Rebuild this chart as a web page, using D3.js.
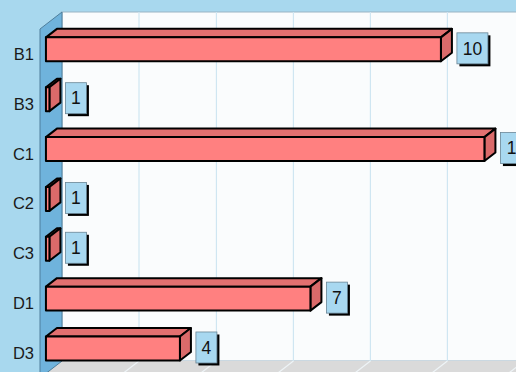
<!DOCTYPE html>
<html>
<head>
<meta charset="utf-8">
<script src="https://cdn.jsdelivr.net/npm/d3@7"></script>
<style>
  html, body { margin: 0; padding: 0; background: #a8d8ee; overflow: hidden; }
  svg { display: block; font-family: "Liberation Sans", Arial, sans-serif; }
</style>
</head>
<body>
<svg id="chart"></svg>
<script>
const categories = ['B1', 'B3', 'C1', 'C2', 'C3', 'D1', 'D3'];
const values = [10, 1, 11, 1, 1, 7, 4];
const gridTicks = [2.69, 4.47, 6.24, 8.01, 9.78, 11.55];

const width = 516;
const height = 372;

// oblique depth offset of the whole chart box
const depthX = 22;
const depthY = -17;
const barD0 = 0.27;
const barD1 = 0.77;

const plotLeft = 40;
const plotTop = 29;
const plotBottom = 378;

const svg = d3.select('#chart')
    .attr('width', width)
    .attr('height', height);

const x = d3.scaleLinear()
    .domain([0.92, 12.5])
    .range([plotLeft, plotLeft + 11.58 * 43.5]);

const y = d3.scaleBand()
    .domain(categories)
    .range([plotTop, plotBottom])
    .paddingInner(0.52)
    .paddingOuter(0.26);

const xMin = x.domain()[0];
const xMax = x.domain()[1];

// project a value/y pair at a given depth (0 = front, 1 = back)
const proj = (v, yy, d) => [x(v) + depthX * d, yy + depthY * d];
const pts = arr => arr.map(p => p.join(',')).join(' ');

svg.append('rect')
    .attr('width', width)
    .attr('height', height)
    .attr('fill', '#a8d8ee');

// back wall
const bwTop = proj(xMin, plotTop, 1);
const bwBottom = proj(xMin, plotBottom, 1);
svg.append('rect')
    .attr('x', bwTop[0])
    .attr('y', bwTop[1])
    .attr('width', width - bwTop[0] + 10)
    .attr('height', bwBottom[1] - bwTop[1])
    .attr('fill', '#fafcfd')
    .attr('stroke', '#9ab4c4')
    .attr('stroke-width', 1);

// floor
svg.append('polygon')
    .attr('points', pts([
        proj(xMin, plotBottom, 1),
        proj(xMax, plotBottom, 1),
        proj(xMax, plotBottom, 0),
        proj(xMin, plotBottom, 0)
    ]))
    .attr('fill', '#dadada');

// grid lines on back wall and floor
gridTicks.forEach(t => {
    const a = proj(t, plotTop, 1);
    const b = proj(t, plotBottom, 1);
    const c = proj(t, plotBottom, 0);
    svg.append('line')
        .attr('x1', a[0]).attr('y1', a[1])
        .attr('x2', b[0]).attr('y2', b[1])
        .attr('stroke', '#cfe6f2')
        .attr('stroke-width', 1.2);
    svg.append('line')
        .attr('x1', b[0]).attr('y1', b[1])
        .attr('x2', c[0]).attr('y2', c[1])
        .attr('stroke', '#eef4f7')
        .attr('stroke-width', 1.2);
});

// left wall
svg.append('polygon')
    .attr('points', pts([
        proj(xMin, plotTop, 0),
        proj(xMin, plotTop, 1),
        proj(xMin, plotBottom, 1),
        proj(xMin, plotBottom, 0)
    ]))
    .attr('fill', '#6fb3dc')
    .attr('stroke', '#4f7f9c')
    .attr('stroke-width', 1);

// category labels
svg.selectAll('.cat')
    .data(categories)
    .enter()
    .append('text')
    .attr('class', 'cat')
    .attr('x', plotLeft - 6)
    .attr('y', d => y(d) + y.bandwidth() / 2)
    .attr('dy', '0.36em')
    .attr('text-anchor', 'end')
    .attr('font-size', 16.5)
    .attr('fill', '#1a1a1a')
    .text(d => d);

// bars
const bars = categories.map((c, i) => ({ cat: c, value: values[i] }));

const g = svg.selectAll('.bar')
    .data(bars)
    .enter()
    .append('g')
    .attr('class', 'bar')
    .attr('stroke', '#000')
    .attr('stroke-width', 2)
    .attr('stroke-linejoin', 'round');

g.append('polygon')
    .attr('points', d => {
        const y0 = y(d.cat);
        return pts([proj(xMin, y0, barD0), proj(d.value, y0, barD0), proj(d.value, y0, barD1), proj(xMin, y0, barD1)]);
    })
    .attr('fill', '#e27070');

g.append('polygon')
    .attr('points', d => {
        const y0 = y(d.cat);
        const y1 = y0 + y.bandwidth();
        return pts([proj(d.value, y0, barD0), proj(d.value, y0, barD1), proj(d.value, y1, barD1), proj(d.value, y1, barD0)]);
    })
    .attr('fill', '#da6a6a');

g.append('polygon')
    .attr('points', d => {
        const y0 = y(d.cat);
        const y1 = y0 + y.bandwidth();
        return pts([proj(xMin, y0, barD0), proj(d.value, y0, barD0), proj(d.value, y1, barD0), proj(xMin, y1, barD0)]);
    })
    .attr('fill', '#ff8080');

// value labels
const lab = svg.selectAll('.val')
    .data(bars)
    .enter()
    .append('g')
    .attr('class', 'val')
    .attr('transform', d => {
        const p = proj(d.value, y(d.cat) + y.bandwidth() / 2, barD0);
        const bx = proj(d.value, 0, barD1)[0] + 5;
        return `translate(${bx},${p[1] - 16.5})`;
    });

const boxW = d => String(d.value).length * 10 + 11;

lab.append('rect')
    .attr('x', 2.5).attr('y', 2.5)
    .attr('width', boxW)
    .attr('height', 31)
    .attr('fill', '#000');

lab.append('rect')
    .attr('width', boxW)
    .attr('height', 31)
    .attr('fill', '#a8d8f0')
    .attr('stroke', '#6a8696')
    .attr('stroke-width', 0.8);

lab.append('text')
    .attr('x', d => boxW(d) / 2)
    .attr('y', 15.5)
    .attr('dy', '0.36em')
    .attr('text-anchor', 'middle')
    .attr('font-size', 17.5)
    .attr('fill', '#111')
    .text(d => d.value);
</script>
</body>
</html>
